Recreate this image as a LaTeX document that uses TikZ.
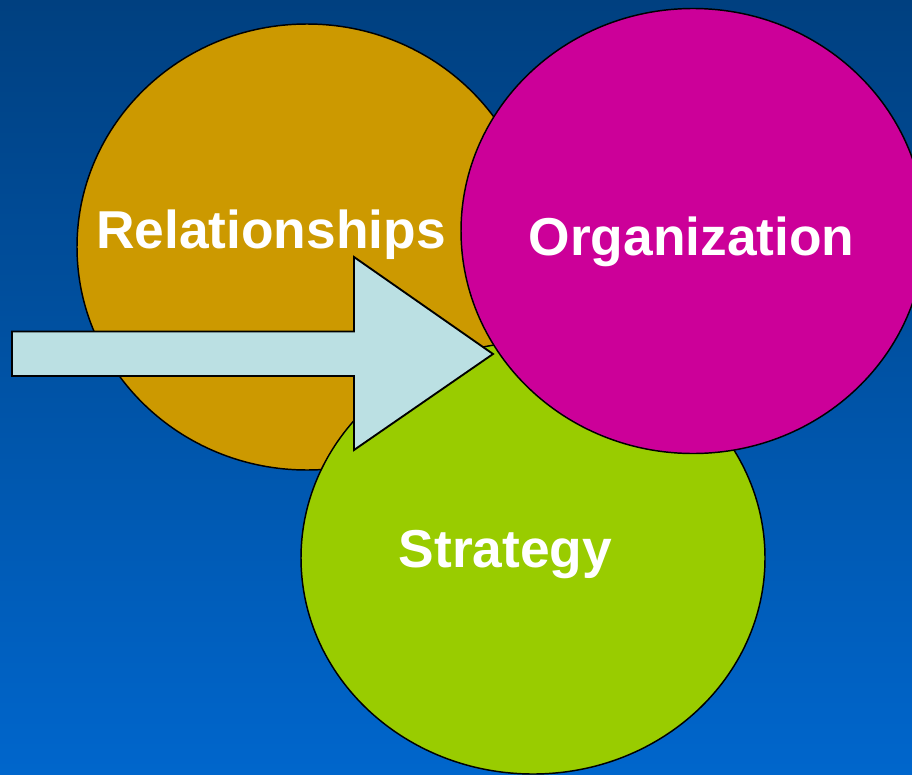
\documentclass[tikz,border=0pt]{standalone}
\usepackage{fontspec}
\setmainfont{Liberation Sans}
\usetikzlibrary{shapes.geometric}
\definecolor{bgtop}{RGB}{0,64,128}
\definecolor{bgbot}{RGB}{0,102,204}
\definecolor{gold}{RGB}{204,153,0}
\definecolor{mag}{RGB}{204,0,153}
\definecolor{lime}{RGB}{153,204,0}
\definecolor{pale}{RGB}{187,224,227}
\tikzset{
  blob/.style={ellipse, draw=black, line width=1.1pt, inner sep=0pt},
  lbl/.style={anchor=base, text=white, font=\fontsize{40}{48}\selectfont\bfseries, inner sep=0pt},
  arrowshape/.style={draw=black, fill=pale, line width=1.4pt, line join=miter}
}
\begin{document}
\begin{tikzpicture}[x=0.75pt, y=-0.75pt]
\useasboundingbox (0,0) rectangle (912,774);
\shade[top color=bgtop, bottom color=bgbot] (0,0) rectangle (912,774);
\begin{scope}
\clip (0,0) rectangle (912,774);
\node[blob, fill=gold, minimum width=345pt, minimum height=334.5pt] (rel) at (307,247) {};
\node[blob, fill=lime, minimum width=348pt, minimum height=324pt] (strat) at (533,558) {};
\node[blob, fill=mag, minimum width=348pt, minimum height=333.75pt] (org) at (693,231) {};
\coordinate (a1) at (12,331.5);
\coordinate (a2) at (354,331.5);
\coordinate (a3) at (354,257);
\coordinate (tip) at (493,354);
\coordinate (a5) at (354,450);
\coordinate (a6) at (354,376);
\coordinate (a7) at (12,376);
\draw[arrowshape] (a1) -- (a2) -- (a3) -- (tip) -- (a5) -- (a6) -- (a7) -- cycle;
\end{scope}
\node[lbl] (reltxt) at (271,248) {Relationships};
\node[lbl] (orgtxt) at (691.5,255) {Organization};
\node[lbl] (strattxt) at (505.5,567) {Strategy};
\end{tikzpicture}
\end{document}
